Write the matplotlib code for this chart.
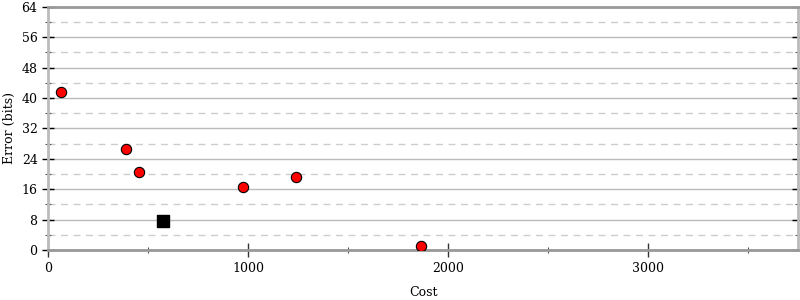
import numpy as np
import matplotlib.pyplot as plt
from matplotlib.ticker import MultipleLocator

plt.rcParams['font.family'] = 'DejaVu Serif'
plt.rcParams['font.size'] = 9

cost = [65, 390, 455, 975, 1240, 1865]
err = [41.6, 26.6, 20.5, 16.6, 19.2, 1.0]
best_cost = [575]
best_err = [7.6]

fig = plt.figure(figsize=(8, 3), dpi=100)
ax = fig.add_axes([0.06, 0.167, 0.9375, 0.81])

ax.set_xlim(0, 3750)
ax.set_ylim(0, 64)
ax.xaxis.set_major_locator(MultipleLocator(1000))
ax.xaxis.set_minor_locator(MultipleLocator(500))
ax.yaxis.set_major_locator(MultipleLocator(8))
ax.yaxis.set_minor_locator(MultipleLocator(4))

ax.grid(True, which='major', axis='y', color='#bbbbbb', lw=1, ls='-')
ax.grid(True, which='minor', axis='y', color='#cccccc', lw=1, ls=(0, (5, 4)))
ax.set_axisbelow(True)

for s in ax.spines.values():
    s.set_color('#bbbbbb')
    s.set_linewidth(2)
ax.spines['top'].set_color('#999999')
ax.spines['bottom'].set_color('#999999')

ax.tick_params(which='major', direction='inout', length=8, width=1, color='black',
               right=True, top=False)
ax.tick_params(which='minor', direction='inout', length=5, width=0.8, color='#555555',
               right=True, top=False)
ax.tick_params(axis='x', which='major', length=10, color='#333333')

ax.scatter(cost, err, s=55, c='red', edgecolors='black', linewidths=0.8, zorder=3)
ax.scatter(best_cost, best_err, s=70, c='black', marker='s', zorder=3)

ax.set_xlabel('Cost', labelpad=8)
ax.set_ylabel('Error (bits)')

fig.savefig('out.png', dpi=100)
